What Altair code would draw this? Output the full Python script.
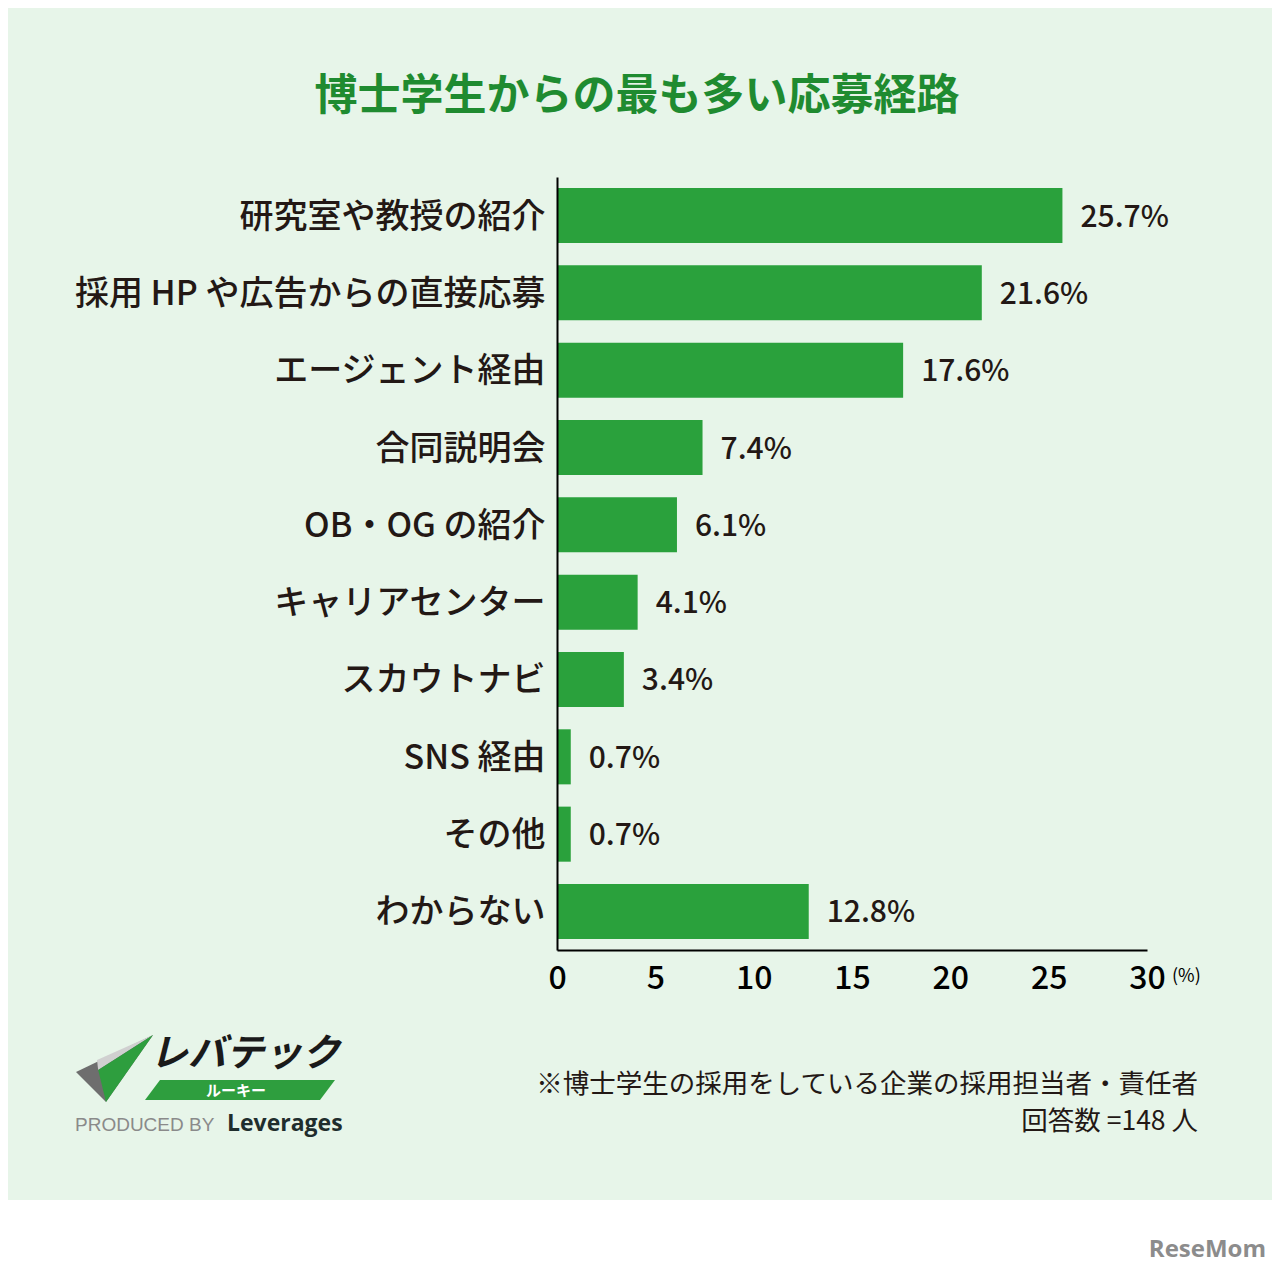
import altair as alt
import pandas as pd

categories = ["研究室や教授の紹介", "採用 HP や広告からの直接応募", "エージェント経由", "合同説明会",
              "OB・OG の紹介", "キャリアセンター", "スカウトナビ", "SNS 経由", "その他", "わからない"]
values = [25.7, 21.6, 17.6, 7.4, 6.1, 4.1, 3.4, 0.7, 0.7, 12.8]
x_ticks = [0, 5, 10, 15, 20, 25, 30]

title_text = "博士学生からの最も多い応募経路"
note1 = "※博士学生の採用をしている企業の採用担当者・責任者"
note2 = "回答数 =148 人"

FONT = "Noto Sans CJK JP"
OX, OY = 557, 177  # plot origin in page pixels (for decorative elements)
W, H = 590, 773
BAR = "#2aa13c"
BG = "#e7f5e9"
INK = "#231815"

df = pd.DataFrame({"cat": categories, "val": values})
df["label"] = [f"{v}%" for v in values]

one = alt.Data(values=[{"a": 1}])

def px(x):
    return alt.value(x - OX)

def py(y):
    return alt.value(y - OY)

# background panel
bg = alt.Chart(one).mark_rect(color=BG).encode(
    x=px(0), x2=px(1290), y=py(0), y2=py(1200)
)

yenc = alt.Y("cat:N", sort=categories,
             scale=alt.Scale(paddingInner=0.288, paddingOuter=0.142),
             axis=alt.Axis(title=None, ticks=False, labelFont=FONT, labelFontSize=34,
                           labelFontWeight=500, labelColor=INK, labelPadding=12,
                           labelOffset=2, labelLimit=800, domainColor="#000000",
                           domainWidth=2, zindex=1))
xenc = alt.X("val:Q", scale=alt.Scale(domain=[0, 30], nice=False),
             axis=alt.Axis(title=None, values=x_ticks, ticks=False, grid=False,
                           labelFont=FONT, labelFontSize=32, labelFontWeight=500,
                           labelColor="#000000", labelPadding=13, labelFlush=False,
                           domainColor="#000000", domainWidth=2, zindex=1))

bars = alt.Chart(df).mark_bar(color=BAR).encode(x=xenc, y=yenc)
vals = alt.Chart(df).mark_text(align="left", baseline="middle", dx=18, dy=2, font=FONT,
                               fontSize=30, fontWeight=500, color=INK).encode(
    x="val:Q", y=alt.Y("cat:N", sort=categories), text="label:N")

def txt(t, x, y, size, color=INK, weight="normal", align="left", font=FONT, style=None):
    kw = {}
    if style:
        kw["fontStyle"] = style
    return alt.Chart(alt.Data(values=[{"t": t}])).mark_text(
        align=align, baseline="middle", font=font, fontSize=size, fontWeight=weight,
        color=color, **kw).encode(x=px(x), y=py(y), text="t:N")

title = txt(title_text, 637, 97, 43, color="#1f8b30", weight="bold", align="center")
pct = txt("(%)", 1172, 977, 18, color="#000000")
n1 = txt(note1, 1198, 1085, 26.5, align="right")
n2 = txt(note2, 1198, 1122, 26.5, align="right")

# logo approximation
def tri(path, color):
    return alt.Chart(one).mark_point(shape=path, size=6400, filled=True, opacity=1,
                                     color=color, strokeWidth=0).encode(x=px(115), y=py(1068))

logo_dark = tri("M 0.95 -0.825 L -0.975 0.1 L -0.225 0.85 Z", "#6e6e6e")
logo_light = tri("M 0.95 -0.825 L -0.45 -0.2 L -0.42 0.05 Z", "#d0d0d0")
logo_green = tri("M 0.95 -0.825 L -0.42 0.05 L -0.225 0.85 Z", "#2e9e3e")
logo_word = txt("レバテック", 150, 1055, 38, color="#1a1a1a", weight="bold", style="italic")
logo_band = alt.Chart(one).mark_point(
    shape="M -0.9 0.1 L -0.75 -0.1 L 1.0 -0.1 L 0.85 0.1 Z", size=40000, filled=True,
    opacity=1, color="#2e9e3e", strokeWidth=0).encode(x=px(235), y=py(1090))
logo_rookie = txt("ルーキー", 236, 1091, 15, color="white", weight="bold", align="center")
produced = txt("PRODUCED BY", 75, 1125, 19, color="#8a8a8a", font="Liberation Sans")
leverages = txt("Leverages", 227, 1124, 23, color="#1f2d2d", weight="bold", font="Open Sans")
resemom = txt("ReseMom", 1266, 1250, 24, color="#8c8c8c", weight="bold", align="right",
              font="Open Sans")

chart = alt.layer(
    bg, bars, vals, title, pct, n1, n2,
    logo_dark, logo_light, logo_green, logo_word, logo_band, logo_rookie,
    produced, leverages, resemom
).properties(
    width=W, height=H,
    padding={"left": OX - 8, "top": OY - 8, "right": 1264 - (OX - 8) - W,
             "bottom": 1257 - (OY - 8) - H},
    autosize=alt.AutoSizeParams(type="none"),
    background="white",
).configure_view(stroke=None)

chart.save("out.html", embed_options={"renderer": "svg", "actions": False})
